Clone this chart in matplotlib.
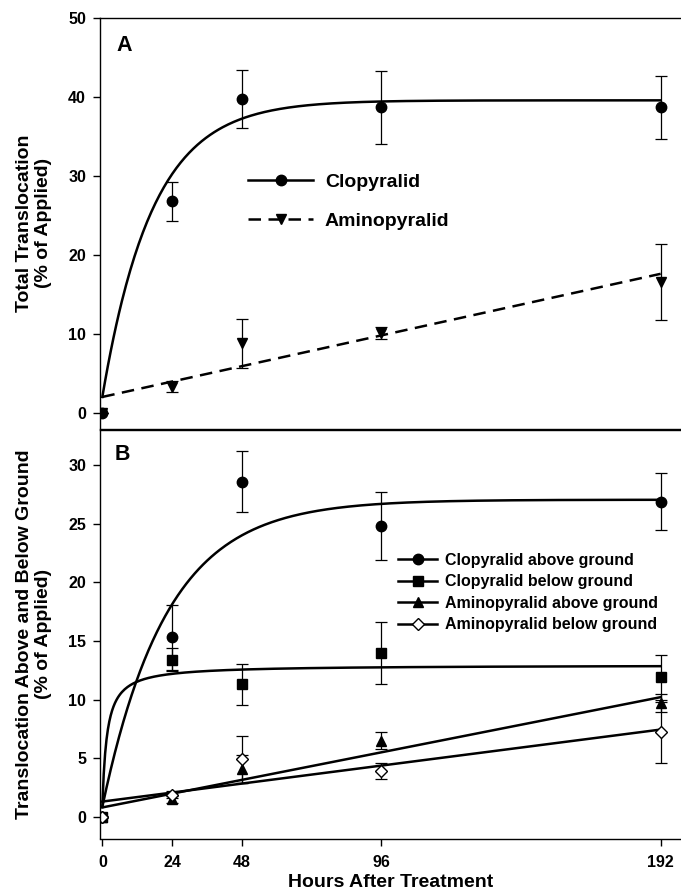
import numpy as np
import matplotlib
matplotlib.use("Agg")
import matplotlib.pyplot as plt

plt.rcParams['font.family'] = ['Liberation Sans', 'DejaVu Sans']
plt.rcParams['font.weight'] = 'bold'
plt.rcParams['axes.linewidth'] = 1.0

# sampling times (hours after treatment)
hours = [0, 24, 48, 96, 192]
xticks = [0, 24, 48, 96, 192]

# panel A: total translocation (% of applied)
clop_total = [0, 26.8, 39.8, 38.7, 38.7]
clop_total_err = [0, 2.5, 3.7, 4.6, 4.0]
amino_total = [0, 3.3, 8.8, 10.1, 16.6]
amino_total_err = [0, 0.7, 3.1, 0.8, 4.8]

# panel B: above / below ground (% of applied)
clop_above = [0, 15.3, 28.6, 24.8, 26.9]
clop_above_err = [0, 2.8, 2.6, 2.9, 2.4]
clop_below = [0, 13.4, 11.3, 14.0, 11.9]
clop_below_err = [0, 1.0, 1.75, 2.65, 1.9]
amino_above = [0, 1.5, 4.1, 6.5, 9.7]
amino_above_err = [0, 0.3, 1.2, 0.7, 0.8]
amino_below = [0, 1.9, 4.9, 3.9, 7.2]
amino_below_err = [0, 0.3, 2.0, 0.7, 2.6]

# fitted regression parameters
clop_total_fit = (2.0, 37.6, 0.058)      # y0, rise, rate  (exponential rise)
amino_total_fit = (2.0, 0.0813)          # intercept, slope
clop_above_fit = (0.85, 26.2, 0.0449)    # y0, rise, rate
clop_below_fit = (0.85, 12.1, 1.59)      # y0, max, half-time (hyperbola)
amino_above_fit = (0.8, 0.049)
amino_below_fit = (1.3, 0.032)


def exp_rise(x, p):
    return p[0] + p[1] * (1 - np.exp(-p[2] * x))


def hyper(x, p):
    return p[0] + p[1] * x / (p[2] + x)


def linear(x, p):
    return p[0] + p[1] * x


xs = np.linspace(0, 192, 400)
LW = 1.8

fig = plt.figure(figsize=(6.81, 8.94), dpi=100)
axA = fig.add_axes([100 / 681, 1 - 428.5 / 894, 581 / 681, 410.2 / 894])
axB = fig.add_axes([100 / 681, 1 - 838.5 / 894, 581 / 681, 408.5 / 894])

eb = dict(fmt='none', ecolor='black', elinewidth=0.9, capsize=4.5, capthick=0.9)

# ---- panel A
axA.errorbar(hours, clop_total, yerr=clop_total_err, **eb)
axA.errorbar(hours, amino_total, yerr=amino_total_err, **eb)
axA.plot(xs, exp_rise(xs, clop_total_fit), color='black', lw=LW)
axA.plot(xs, linear(xs, amino_total_fit), color='black', lw=LW, dashes=(5, 3))
axA.plot(hours, amino_total, 'v', color='black', ms=7.5)
axA.plot(hours, clop_total, 'o', color='black', ms=7.5)

hA1, = axA.plot([], [], color='black', lw=LW, marker='o', ms=7.5)
hA2, = axA.plot([], [], color='black', lw=LW, marker='v', ms=7.5, dashes=(5, 3))
axA.legend([hA1, hA2], ['Clopyralid', 'Aminopyralid'], loc='upper left',
           bbox_to_anchor=(0.255, 0.622), frameon=False, borderpad=0,
           borderaxespad=0, handlelength=3.35, handletextpad=0.6,
           labelspacing=1.1, prop=dict(size=14, weight='bold'))

axA.set_xlim(-0.8, 199)
axA.set_ylim(-2, 50)
axA.set_yticks([0, 10, 20, 30, 40, 50])
axA.set_xticks([])
axA.spines['right'].set_visible(False)
axA.tick_params(axis='y', direction='out', length=5, width=1, pad=5, labelsize=11.5)
axA.set_ylabel('Total Translocation\n(% of Applied)', fontsize=14, fontweight='bold',
               linespacing=1.1)
axA.yaxis.set_label_coords(-0.083, 0.5)
axA.text(0.028, 0.934, 'A', transform=axA.transAxes, fontsize=15.5, fontweight='bold',
         va='center', ha='left')

# ---- panel B
for vals, errs in [(clop_above, clop_above_err), (clop_below, clop_below_err),
                   (amino_above, amino_above_err), (amino_below, amino_below_err)]:
    axB.errorbar(hours, vals, yerr=errs, **eb)

axB.plot(xs, exp_rise(xs, clop_above_fit), color='black', lw=LW)
axB.plot(xs, hyper(xs, clop_below_fit), color='black', lw=LW)
axB.plot(xs, linear(xs, amino_above_fit), color='black', lw=LW)
axB.plot(xs, linear(xs, amino_below_fit), color='black', lw=LW)

axB.plot(hours, clop_above, 'o', color='black', ms=7.5)
axB.plot(hours, clop_below, 's', color='black', ms=6.5)
axB.plot(hours, amino_above, '^', color='black', ms=7.5)
axB.plot(hours, amino_below, 'D', mfc='white', mec='black', mew=1, ms=6.5)

hB = [
    axB.plot([], [], color='black', lw=LW, marker='o', ms=7.5)[0],
    axB.plot([], [], color='black', lw=LW, marker='s', ms=6.5)[0],
    axB.plot([], [], color='black', lw=LW, marker='^', ms=7.5)[0],
    axB.plot([], [], color='black', lw=LW, marker='D', mfc='white', mec='black', ms=6.5)[0],
]
axB.legend(hB, ['Clopyralid above ground', 'Clopyralid below ground',
                'Aminopyralid above ground', 'Aminopyralid below ground'],
           loc='upper left', bbox_to_anchor=(0.513, 0.699), frameon=False,
           borderpad=0, borderaxespad=0, handlelength=2.45, handletextpad=0.5,
           labelspacing=0.4, prop=dict(size=11.5, weight='bold'))

axB.set_xlim(-0.8, 199)
axB.set_ylim(-1.85, 33)
axB.set_yticks([0, 5, 10, 15, 20, 25, 30])
axB.set_xticks(xticks)
axB.set_xticklabels([str(t) for t in xticks])
axB.spines['right'].set_visible(False)
axB.tick_params(axis='y', direction='out', length=5, width=1, pad=5, labelsize=11.5)
axB.tick_params(axis='x', direction='out', length=5, width=1, pad=7, labelsize=11.5)
axB.set_ylabel('Translocation Above and Below Ground\n(% of Applied)', fontsize=14,
               fontweight='bold', linespacing=1.1)
axB.yaxis.set_label_coords(-0.083, 0.5)
axB.set_xlabel('Hours After Treatment', fontsize=14, fontweight='bold', labelpad=3)
axB.text(0.025, 0.941, 'B', transform=axB.transAxes, fontsize=15.5, fontweight='bold',
         va='center', ha='left')

fig.savefig('out.png', dpi=100)
